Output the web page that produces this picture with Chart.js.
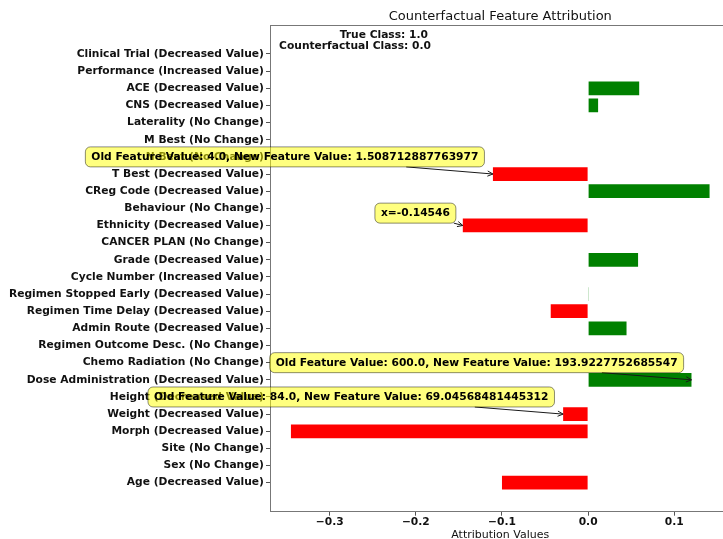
<!DOCTYPE html>
<html>
<head>
<meta charset="utf-8">
<script src="https://cdn.jsdelivr.net/npm/chart.js@4.4.0/dist/chart.umd.min.js"></script>
<style>
  html, body { margin: 0; padding: 0; background: #fff; overflow: hidden; }
  #wrap { width: 723px; height: 539px; overflow: hidden; position: relative; }
  canvas { display: block; }
</style>
</head>
<body>
<div id="wrap"><canvas id="chart" width="760" height="539"></canvas></div>
<script>
// Features from top to bottom of the y axis
const features = [
  'Clinical Trial (Decreased Value)',
  'Performance (Increased Value)',
  'ACE (Decreased Value)',
  'CNS (Decreased Value)',
  'Laterality (No Change)',
  'M Best (No Change)',
  'N Best (No Change)',
  'T Best (Decreased Value)',
  'CReg Code (Decreased Value)',
  'Behaviour (No Change)',
  'Ethnicity (Decreased Value)',
  'CANCER PLAN (No Change)',
  'Grade (Decreased Value)',
  'Cycle Number (Increased Value)',
  'Regimen Stopped Early (Decreased Value)',
  'Regimen Time Delay (Decreased Value)',
  'Admin Route (Decreased Value)',
  'Regimen Outcome Desc. (No Change)',
  'Chemo Radiation (No Change)',
  'Dose Administration (Decreased Value)',
  'Height (Decreased Value)',
  'Weight (Decreased Value)',
  'Morph (Decreased Value)',
  'Site (No Change)',
  'Sex (No Change)',
  'Age (Decreased Value)'
];

// Attribution value per feature, same order
const attributions = [
  0.0, 0.0, 0.0593, 0.0116, 0.0, 0.0, 0.0,
  -0.1105, 0.1410, 0.0, -0.14546, 0.0, 0.0580, 0.0,
  0.0008, -0.0434, 0.0446, 0.0, 0.0, 0.1200,
  0.0, -0.0290, -0.3450, 0.0, 0.0, -0.1000
];

const xTickValues = [-0.3, -0.2, -0.1, 0.0, 0.1];
const xLimits = [-0.3693, 0.1653];

const titleText = 'Counterfactual Feature Attribution';
const xAxisLabel = 'Attribution Values';
const classLines = ['True Class: 1.0', 'Counterfactual Class: 0.0'];

// Callouts attached to individual bars
const calloutFeatures = [
  'T Best (Decreased Value)',
  'Ethnicity (Decreased Value)',
  'Dose Administration (Decreased Value)',
  'Weight (Decreased Value)'
];
const calloutTexts = [
  'Old Feature Value: 4.0, New Feature Value: 1.508712887763977',
  'x=-0.14546',
  'Old Feature Value: 600.0, New Feature Value: 193.9227752685547',
  'Old Feature Value: 84.0, New Feature Value: 69.04568481445312'
];
// where each callout box is centred (x in attribution units, y as row offset)
const calloutPlacement = [
  { x: -0.352, dRow: 1.0 },
  { x: -0.2005, dRow: 0.72 },
  { x: -0.1294, dRow: 1.0 },
  { x: -0.275, dRow: 1.0 }
];

const n = features.length;
// row index counted from the bottom (Age = 0)
const rowOf = (i) => n - 1 - i;
const barData = attributions.map((v, i) => ({ x: v, y: rowOf(i) }));
const barColors = attributions.map(v => (v >= 0 ? '#008000' : '#ff0000'));
const yMargin = 0.05 * ((n - 1 + 0.4) - (-0.4));
const yLimits = [-0.4 - yMargin, n - 1 + 0.4 + yMargin];

const FONT = '"DejaVu Sans", "Liberation Sans", sans-serif';
const LABEL_SIZE = 10.7;

const overlay = {
  id: 'overlay',
  afterDraw(chart) {
    const { ctx, chartArea: a, scales } = chart;
    const xs = scales.x, ys = scales.y;
    ctx.save();

    // top and right spines
    ctx.strokeStyle = '#777';
    ctx.lineWidth = 1;
    ctx.beginPath();
    ctx.moveTo(a.left, Math.round(a.top) + 0.5);
    ctx.lineTo(a.right, Math.round(a.top) + 0.5);
    ctx.moveTo(Math.round(a.right) + 0.5, a.top);
    ctx.lineTo(Math.round(a.right) + 0.5, a.bottom);
    ctx.stroke();

    // title
    ctx.fillStyle = '#111';
    ctx.font = '13px ' + FONT;
    ctx.textAlign = 'center';
    ctx.textBaseline = 'middle';
    ctx.fillText(titleText, (a.left + a.right) / 2, a.top - 8.5);

    // axis label
    ctx.font = '11px ' + FONT;
    ctx.fillText(xAxisLabel, (a.left + a.right) / 2, a.bottom + 23);

    // class info box
    ctx.font = 'bold ' + LABEL_SIZE + 'px ' + FONT;
    ctx.textAlign = 'right';
    ctx.fillText(classLines[0], a.left + 158, a.top + 10.5);
    ctx.fillText(classLines[1], a.left + 161, a.top + 21.5);

    // callouts
    calloutFeatures.forEach((name, k) => {
      const i = features.indexOf(name);
      const tx = xs.getPixelForValue(attributions[i]);
      const ty = ys.getPixelForValue(rowOf(i));
      const p = calloutPlacement[k];
      const cx = xs.getPixelForValue(p.x);
      const cy = ys.getPixelForValue(rowOf(i) + p.dRow);
      ctx.font = 'bold ' + LABEL_SIZE + 'px ' + FONT;
      const w = ctx.measureText(calloutTexts[k]).width + 12;
      const h = 20;
      const bx = cx - w / 2, by = cy - h / 2;

      // arrow, starting where the centre→target line leaves the box
      const dx = tx - cx, dy = ty - cy;
      const t = Math.min(Math.abs((w / 2) / dx) || Infinity, Math.abs((h / 2) / dy) || Infinity);
      const sx = cx + dx * t, sy = cy + dy * t;
      ctx.strokeStyle = '#1a1a1a';
      ctx.lineWidth = 1;
      ctx.beginPath();
      ctx.moveTo(sx, sy);
      ctx.lineTo(tx, ty);
      const ang = Math.atan2(ty - sy, tx - sx);
      const hl = 6, ha = 0.45;
      ctx.moveTo(tx - hl * Math.cos(ang - ha), ty - hl * Math.sin(ang - ha));
      ctx.lineTo(tx, ty);
      ctx.lineTo(tx - hl * Math.cos(ang + ha), ty - hl * Math.sin(ang + ha));
      ctx.stroke();

      // box
      ctx.beginPath();
      ctx.roundRect(bx, by, w, h, 5);
      ctx.fillStyle = 'rgba(255,255,0,0.5)';
      ctx.fill();
      ctx.strokeStyle = 'rgba(0,0,0,0.45)';
      ctx.stroke();

      ctx.fillStyle = '#000';
      ctx.textAlign = 'center';
      ctx.textBaseline = 'middle';
      ctx.fillText(calloutTexts[k], cx, cy + 0.5);
    });
    ctx.restore();
  }
};

new Chart(document.getElementById('chart'), {
  type: 'bar',
  data: {
    datasets: [{
      data: barData,
      backgroundColor: barColors,
      borderWidth: 0,
      barPercentage: 0.8,
      categoryPercentage: 1.0
    }]
  },
  options: {
    indexAxis: 'y',
    responsive: false,
    animation: false,
    devicePixelRatio: 1,
    layout: { padding: { top: 25, right: 29.5, left: 0, bottom: 0 } },
    plugins: { legend: { display: false }, tooltip: { enabled: false }, title: { display: false } },
    scales: {
      x: {
        type: 'linear',
        min: xLimits[0],
        max: xLimits[1],
        afterBuildTicks(scale) { scale.ticks = xTickValues.map(v => ({ value: v })); },
        afterFit(scale) { scale.height = 27.3; },
        grid: { drawOnChartArea: false, tickLength: 4, color: '#555', tickColor: '#555' },
        border: { color: '#777', width: 1 },
        ticks: {
          padding: 0.5,
          color: '#111',
          font: { family: FONT, size: LABEL_SIZE, weight: 'bold' },
          maxRotation: 0,
          callback: (v) => v.toFixed(1).replace('-', '\u2212')
        }
      },
      y: {
        type: 'linear',
        offset: false,
        min: yLimits[0],
        max: yLimits[1],
        afterBuildTicks(scale) { scale.ticks = features.map((_, i) => ({ value: rowOf(i) })); },
        afterFit(scale) { scale.width = 270; },
        grid: { offset: false, drawOnChartArea: false, tickLength: 4, color: '#555', tickColor: '#555' },
        border: { color: '#777', width: 1 },
        ticks: {
          padding: 2,
          color: '#111',
          font: { family: FONT, size: LABEL_SIZE, weight: 'bold' },
          autoSkip: false,
          callback: (v) => features[n - 1 - v]
        }
      }
    }
  },
  plugins: [overlay]
});
</script>
</body>
</html>
